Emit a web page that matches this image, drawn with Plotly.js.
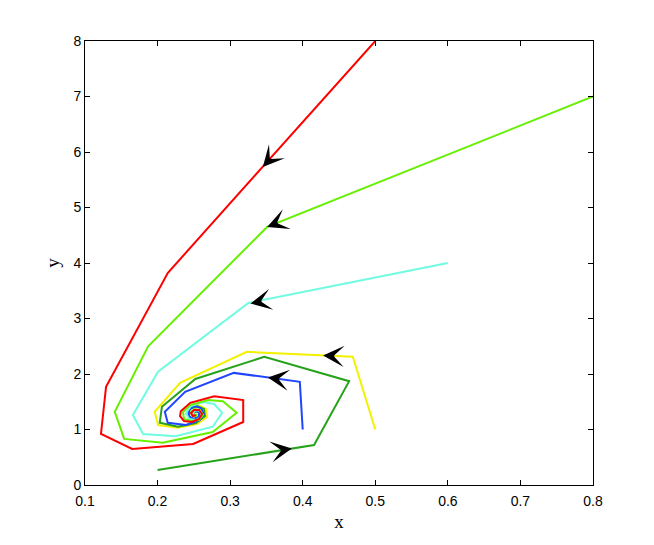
<!DOCTYPE html>
<html>
<head>
<meta charset="utf-8">
<script src="https://cdn.plot.ly/plotly-3.0.1.min.js"></script>
<style>html,body{margin:0;padding:0;background:#fff;}#plot{width:654px;height:545px;}</style>
</head>
<body>
<div id="plot"></div>
<script>
// ---- data ----
const redX = [0.5, 0.214, 0.129, 0.122, 0.165, 0.249, 0.318, 0.318, 0.278, 0.245, 0.232, 0.231, 0.2364, 0.2474, 0.2571, 0.2612, 0.2571, 0.2502, 0.2461, 0.2488, 0.2529];
const redY = [8.0, 3.82, 1.77, 0.92, 0.65, 0.74, 1.135, 1.53, 1.60, 1.48, 1.33, 1.24, 1.153, 1.135, 1.189, 1.279, 1.351, 1.351, 1.297, 1.243, 1.261];

const limeX = [0.8, 0.351, 0.187, 0.141, 0.154, 0.207, 0.276, 0.309, 0.290, 0.2695, 0.2447, 0.235, 0.2364, 0.2461, 0.2571, 0.2626, 0.2585, 0.2516, 0.2461, 0.2474, 0.2529, 0.2543];
const limeY = [7.0, 4.65, 2.50, 1.32, 0.83, 0.76, 0.955, 1.30, 1.51, 1.53, 1.44, 1.315, 1.19, 1.153, 1.171, 1.261, 1.351, 1.369, 1.315, 1.243, 1.243, 1.279];

const cyanX = [0.6, 0.325, 0.2006, 0.166, 0.180, 0.225, 0.276, 0.289, 0.2778, 0.2626, 0.2461, 0.2392, 0.2433, 0.2529, 0.2598, 0.2598, 0.2543, 0.2488, 0.2502];
const cyanY = [4.0, 3.28, 2.04, 1.26, 0.92, 0.88, 1.05, 1.30, 1.459, 1.495, 1.423, 1.297, 1.189, 1.171, 1.225, 1.315, 1.351, 1.315, 1.261];

const yellowX = [0.5, 0.469, 0.323, 0.231, 0.196, 0.2006, 0.228, 0.2543, 0.2681, 0.2667, 0.2557, 0.2447, 0.2406, 0.2447, 0.2543, 0.2585, 0.2557, 0.2502, 0.2502];
const yellowY = [1.0, 2.31, 2.40, 1.84, 1.32, 1.08, 1.03, 1.099, 1.225, 1.369, 1.441, 1.387, 1.279, 1.189, 1.189, 1.261, 1.333, 1.315, 1.261];

const greenX = [0.2, 0.4156, 0.464, 0.347, 0.252, 0.206, 0.203, 0.228, 0.2529, 0.2653, 0.264, 0.2543, 0.2447, 0.2419, 0.2474, 0.2557, 0.2585, 0.2543, 0.2502];
const greenY = [0.27, 0.72, 1.87, 2.31, 1.91, 1.41, 1.12, 1.05, 1.117, 1.243, 1.369, 1.423, 1.369, 1.261, 1.189, 1.207, 1.279, 1.333, 1.297];

const blueX = [0.4, 0.396, 0.305, 0.238, 0.210, 0.214, 0.2392, 0.2585, 0.264, 0.2598, 0.2502, 0.2433, 0.2433, 0.2502, 0.2571, 0.2571, 0.2516];
const blueY = [1.0, 1.86, 2.02, 1.68, 1.32, 1.12, 1.081, 1.171, 1.279, 1.387, 1.423, 1.351, 1.243, 1.189, 1.225, 1.315, 1.333];

// arrow tips (data) and the point each arrow comes from (direction)
const arrowTipX  = [0.345, 0.351, 0.328, 0.428, 0.352, 0.385];
const arrowTipY  = [5.73, 4.65, 3.27, 2.335, 1.935, 0.656];
const arrowFromX = [0.5, 0.8, 0.6, 0.469, 0.396, 0.2];
const arrowFromY = [8.0, 7.0, 4.0, 2.31, 1.86, 0.27];

const xTicks = [0.1, 0.2, 0.3, 0.4, 0.5, 0.6, 0.7, 0.8];
const yTicks = [0, 1, 2, 3, 4, 5, 6, 7, 8];

// ---- style ----
const W = 654, H = 545;
const M = {l: 85, r: 61, t: 41, b: 60};
const xRange = [0.1, 0.8], yRange = [0, 8];
const pxPerX = (W - M.l - M.r) / (xRange[1] - xRange[0]);
const pxPerY = (H - M.t - M.b) / (yRange[1] - yRange[0]);

function line(x, y, color) {
  return {x: x, y: y, type: 'scatter', mode: 'lines', line: {color: color, width: 2}, hoverinfo: 'skip', showlegend: false};
}
const traces = [
  line(yellowX, yellowY, '#f2f200'),
  line(greenX, greenY, '#27a21b'),
  line(blueX, blueY, '#1f45ff'),
  line(cyanX, cyanY, '#70fce0'),
  line(limeX, limeY, '#66f000'),
  line(redX, redY, '#ff0000')
];

const annotations = arrowTipX.map((tx, i) => {
  const ty = arrowTipY[i];
  const dxp = (arrowFromX[i] - tx) * pxPerX;
  const dyp = (arrowFromY[i] - ty) * pxPerY;
  const t = 8 / Math.sqrt(dxp * dxp + dyp * dyp);
  return {
    x: tx, y: ty, xref: 'x', yref: 'y',
    ax: tx + (arrowFromX[i] - tx) * t, ay: ty + (arrowFromY[i] - ty) * t,
    axref: 'x', ayref: 'y',
    text: '', showarrow: true, arrowhead: 3, arrowsize: 2.35, arrowwidth: 1.5,
    arrowcolor: '#000000', standoff: 0
  };
});

const tickFont = {family: 'Liberation Sans, Arial, sans-serif', size: 14, color: '#000'};
const titleFont = {family: 'Liberation Serif, Times New Roman, serif', size: 19, color: '#000'};

const layout = {
  width: W, height: H,
  margin: M,
  paper_bgcolor: '#ffffff', plot_bgcolor: '#ffffff',
  showlegend: false,
  xaxis: {
    range: xRange, tickvals: xTicks, tickformat: '.1f',
    ticks: 'inside', ticklen: 5, tickcolor: '#000', mirror: 'ticks',
    showline: true, linecolor: '#000', linewidth: 1,
    showgrid: false, zeroline: false, tickfont: tickFont, ticklabelstandoff: 3,
    title: {text: 'x', font: titleFont, standoff: 6}
  },
  yaxis: {
    range: yRange, tickvals: yTicks,
    ticks: 'inside', ticklen: 5, tickcolor: '#000', mirror: 'ticks',
    showline: true, linecolor: '#000', linewidth: 1,
    showgrid: false, zeroline: false, tickfont: tickFont,
    title: {text: 'y', font: titleFont, standoff: 8}
  },
  annotations: annotations
};

Plotly.newPlot('plot', traces, layout, {displayModeBar: false, staticPlot: true});
</script>
</body>
</html>
